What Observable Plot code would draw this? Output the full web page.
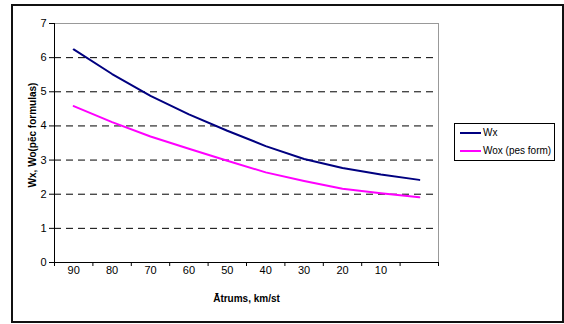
<!DOCTYPE html>
<html>
<head>
<meta charset="utf-8">
<script src="https://cdn.jsdelivr.net/npm/d3@7"></script>
<script src="https://cdn.jsdelivr.net/npm/@observablehq/plot@0.6"></script>
<style>
  html, body { margin: 0; padding: 0; background: #fff; }
  #wrap { position: relative; width: 564px; height: 324px; overflow: hidden; font-family: "Liberation Sans", Arial, sans-serif; }
  #frame { position: absolute; left: 11px; top: 4px; width: 553px; height: 319px; box-sizing: border-box; border: 2px solid #111; pointer-events: none; }
  #legend { position: absolute; left: 454px; top: 123px; width: 101px; height: 38px; box-sizing: border-box; border: 1px solid #000; background: #fff; font-size: 10px; color: #000; }
  .item { position: absolute; left: 5px; display: flex; align-items: center; }
  .swatch { width: 21px; height: 2px; margin-right: 2px; }
</style>
</head>
<body>
<div id="wrap">
  <div id="chart"></div>
  <div id="legend"></div>
  <div id="frame"></div>
</div>
<script>
// Speed categories (km/st) and their axis labels
const speeds = [90, 80, 70, 60, 50, 40, 30, 20, 10, 0];
const speedLabels = ["90", "80", "70", "60", "50", "40", "30", "20", "10", ""];

// Series values
const wx  = [6.24, 5.52, 4.88, 4.34, 3.86, 3.41, 3.03, 2.77, 2.58, 2.42];
const wox = [4.58, 4.11, 3.69, 3.33, 2.98, 2.64, 2.39, 2.16, 2.03, 1.91];

const yTicks = [0, 1, 2, 3, 4, 5, 6, 7];

const seriesNames = ["Wx", "Wox (pes form)"];
const seriesColors = ["#000080", "#ff00ff"];

const rows = speeds.map((s, i) => ({speed: s, wx: wx[i], wox: wox[i]}));

// Category boundaries, where the x tick marks sit
const boundaries = [...speeds.map(s => s + 5), speeds[speeds.length - 1] - 5];

const chart = Plot.plot({
  width: 564,
  height: 324,
  marginLeft: 54,
  marginRight: 126,
  marginTop: 23,
  marginBottom: 62,
  style: {fontFamily: "Liberation Sans, Arial, sans-serif", fontSize: "11px", background: "transparent"},
  x: {type: "linear", domain: [boundaries[0], boundaries[boundaries.length - 1]]},
  y: {domain: [0, 7]},
  marks: [
    Plot.gridY(yTicks.filter(t => t > 0 && t < 7), {stroke: "#000", strokeOpacity: 1, strokeDasharray: "7,5"}),
    Plot.ruleY([7], {stroke: "#999"}),
    Plot.ruleX([boundaries[boundaries.length - 1]], {stroke: "#999"}),
    Plot.ruleX([boundaries[0]], {stroke: "#000"}),
    Plot.ruleY([0], {stroke: "#000"}),
    Plot.axisY(yTicks, {tickSize: 5, tickPadding: 3, label: null, fontSize: 11}),
    Plot.axisX(boundaries, {tickSize: 4, tickFormat: () => "", label: null}),
    Plot.axisX(speeds, {tickSize: 0, tickPadding: 4, tickFormat: d => speedLabels[speeds.indexOf(d)], label: null, fontSize: 11}),
    Plot.line(rows, {x: "speed", y: "wx", stroke: seriesColors[0], strokeWidth: 2}),
    Plot.line(rows, {x: "speed", y: "wox", stroke: seriesColors[1], strokeWidth: 2}),
    Plot.text(["Ātrums, km/st"], {frameAnchor: "bottom", lineAnchor: "middle", dy: 36, fontWeight: "bold", fontSize: 10}),
    Plot.text(["Wx, Wo(pēc formulas)"], {frameAnchor: "left", textAnchor: "middle", lineAnchor: "middle", rotate: -90, dx: -22, dy: -8, fontWeight: "bold", fontSize: 10, letterSpacing: "0.3px"})
  ]
});
document.getElementById("chart").appendChild(chart);

// Legend
const legend = document.getElementById("legend");
seriesNames.forEach((name, i) => {
  const item = document.createElement("div");
  item.className = "item";
  item.style.top = (i === 0 ? 3 : 21) + "px";
  const sw = document.createElement("span");
  sw.className = "swatch";
  sw.style.background = seriesColors[i];
  const label = document.createElement("span");
  label.textContent = name;
  item.appendChild(sw);
  item.appendChild(label);
  legend.appendChild(item);
});
</script>
</body>
</html>
